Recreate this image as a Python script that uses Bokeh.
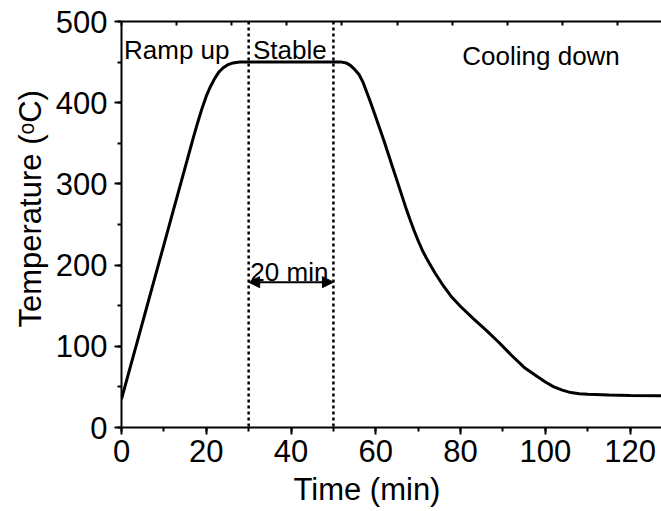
import numpy as np
from bokeh.plotting import figure
from bokeh.models import (Range1d, LinearAxis, SingleIntervalTicker, FixedTicker,
                          Label, Span, Arrow, NormalHead, Title)
from bokeh.embed import file_html
from bokeh.resources import INLINE

# ---- data ----
time_min = [0, 2, 4, 6, 8, 10, 12, 14, 16, 17, 18, 19, 20, 21, 22, 23, 24, 25, 26,
            27, 28, 30, 40, 50, 52, 53, 54, 55, 56, 57, 58, 59, 60, 61, 62, 63, 64,
            65, 66, 67, 68, 69, 70, 71, 72, 73, 74, 76, 78, 80, 83, 86, 89, 92, 95,
            98, 100, 102, 104, 106, 108, 110, 115, 120, 128]
temp_c = [35, 73, 111, 149, 187, 225, 263, 301, 339, 358, 376, 393, 408, 420, 430,
          438, 443, 446.5, 448.5, 449.5, 450, 450, 450, 450, 450, 449, 446, 441,
          435, 425, 411, 397, 382, 367, 352, 336, 320, 304, 288, 272, 257, 243,
          230, 218, 208, 199, 190, 174, 160, 149, 134, 120, 105, 89, 74, 63, 56,
          50, 46, 43, 41.5, 41, 40, 39.5, 39]

phase_bounds = [30, 50]          # stable phase (min)
arrow_level = 179                # °C, level of the 20 min arrow
x_ticks_major = 20
y_ticks_major = 100
top_tick_values = [0, 13, 26, 39, 52, 65, 78, 91, 104, 117]

annotations = [
    ("Ramp up", 0.6, 465),
    ("Stable", 31.0, 465),
    ("Cooling down", 80.4, 458),
    ("20 min", 30.4, 191),
]

x_title = "Time (min)"
y_title = "Temperature (ᵒC)"

FONT = "Liberation Sans"

p = figure(width=661, height=511, output_backend="svg", toolbar_location=None,
           x_range=Range1d(0, 127.4), y_range=Range1d(0, 500),
           x_axis_location=None, y_axis_location=None,
           min_border_left=121, min_border_right=0, min_border_top=21,
           min_border_bottom=84)
p.outline_line_color = None
p.xgrid.visible = False
p.ygrid.visible = False
p.background_fill_color = "white"
p.border_fill_color = "white"

def style_axis(ax, major_out=7, minor_out=4, labels=True):
    ax.axis_line_width = 2
    ax.axis_line_color = "black"
    ax.major_tick_line_width = 2
    ax.minor_tick_line_width = 2
    ax.major_tick_in = 0
    ax.major_tick_out = major_out
    ax.minor_tick_in = 0
    ax.minor_tick_out = minor_out
    ax.major_label_text_font = FONT
    ax.major_label_text_font_size = "31px" if labels else "0px"
    ax.major_label_text_color = "black"

xaxis = LinearAxis(ticker=SingleIntervalTicker(interval=x_ticks_major, num_minor_ticks=2))
style_axis(xaxis)
xaxis.major_label_standoff = 5
p.add_layout(xaxis, "below")

yaxis = LinearAxis(ticker=SingleIntervalTicker(interval=y_ticks_major, num_minor_ticks=2))
style_axis(yaxis)
yaxis.major_label_standoff = 7
p.add_layout(yaxis, "left")

top = LinearAxis(ticker=FixedTicker(ticks=top_tick_values))
style_axis(top, labels=False)
top.major_tick_in = 4
top.major_tick_out = 0
top.minor_tick_out = 0
top.major_label_standoff = 0
top.major_label_text_color = None
p.add_layout(top, "above")

# axis titles as side titles (so they sit outside the frame)
p.add_layout(Title(text=x_title, align="left", offset=172, standoff=10,
                   text_font=FONT, text_font_size="31px", text_font_style="normal",
                   text_color="black"), "below")
p.add_layout(Title(text=y_title, align="left", offset=100, standoff=9,
                   text_font=FONT, text_font_size="31px", text_font_style="normal",
                   text_color="black"), "left")

# phase separators
for b in phase_bounds:
    p.add_layout(Span(location=b, dimension="height", line_color="black",
                      line_width=2.5, line_dash="3 3"))

# curve
p.line(time_min, temp_c, line_color="black", line_width=3)

# 20 min arrow
p.add_layout(Arrow(x_start=phase_bounds[0], x_end=phase_bounds[1],
                   y_start=arrow_level, y_end=arrow_level,
                   line_width=2, line_color="black",
                   start=NormalHead(size=11, fill_color="black", line_color="black"),
                   end=NormalHead(size=11, fill_color="black", line_color="black")))

for txt, xv, yv in annotations:
    p.add_layout(Label(x=xv, y=yv, text=txt, text_font=FONT, text_font_size="26px",
                       text_baseline="alphabetic", text_align="left",
                       text_color="black"))

open("out.html", "w").write(file_html(p, INLINE))
